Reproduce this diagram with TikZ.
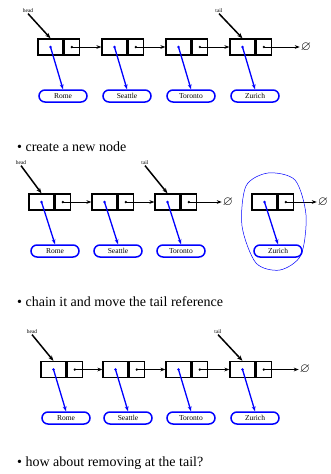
\documentclass[tikz,border=0pt]{standalone}
\usepackage{amssymb}
\usepackage{fontspec}
\setmainfont{Liberation Serif}
\usetikzlibrary{arrows.meta, positioning}

\begin{document}
\begin{tikzpicture}[x=1pt,y=-1pt,
  cell/.style={draw,line width=1.3pt,minimum height=16pt,inner sep=0pt},
  data/.style={cell,minimum width=25pt},
  link/.style={cell,minimum width=15pt},
  elem/.style={draw=blue,line width=1.5pt,rounded corners=6pt,minimum width=48pt,minimum height=12pt,inner sep=0pt,font=\fontsize{7.5}{8}\selectfont},
  ref/.style={font=\fontsize{5.5}{6}\selectfont,inner sep=0.5pt},
  nxt/.style={-{Stealth[length=5pt]},line width=1pt},
  ptr/.style={-{Stealth[length=5pt]},blue,line width=1.3pt},
  lbl/.style={-{Stealth[length=5.5pt]},line width=1.5pt},
  bul/.style={anchor=west,font=\fontsize{14}{15}\selectfont,inner sep=0pt},
  nul/.style={font=\fontsize{13}{13}\selectfont,inner sep=1pt}]
\useasboundingbox (0,0) rectangle (331,474);

% first list
\foreach \i/\x/\c in {1/50.5/Rome,2/114.5/Seattle,3/178.5/Toronto,4/242.5/Zurich} {
  \node[data] (d1\i) at (\x,47) {};
  \node[link,right=0pt of d1\i] (l1\i) {};
  \node[elem] (e1\i) at (\x+12.5,96) {\c};
  \fill[blue] (d1\i) circle (1.4pt);
  \fill (l1\i) circle (1.3pt);
  \draw[ptr] (d1\i.center) -- (e1\i.north);
}
\node[nul] (z1) at (306,47) {$\varnothing$};
\draw[nxt] (l11.center) -- (d12.west);
\draw[nxt] (l12.center) -- (d13.west);
\draw[nxt] (l13.center) -- (d14.west);
\draw[nxt] (l14.center) -- (z1.west);
\node[ref] (h1) at (28,11) {head};
\node[ref] (t1) at (219,11) {tail};
\draw[lbl] (h1.south) -- (d11.north);
\draw[lbl] (t1.south) -- (d14.north);

\node[bul] (s1) at (17,147) {\textbullet\ create a new node};

% second list, new node apart
\foreach \i/\x/\c in {1/41.5/Rome,2/104.5/Seattle,3/167.5/Toronto,4/264.5/Zurich} {
  \node[data] (d2\i) at (\x,202) {};
  \node[link,right=0pt of d2\i] (l2\i) {};
  \node[elem] (e2\i) at (\x+13.5,251) {\c};
  \fill[blue] (d2\i) circle (1.4pt);
  \fill (l2\i) circle (1.3pt);
  \draw[ptr] (d2\i.center) -- (e2\i.north);
}
\node[nul] (z2) at (228,202) {$\varnothing$};
\node[nul] (z3) at (323,202) {$\varnothing$};
\draw[nxt] (l21.center) -- (d22.west);
\draw[nxt] (l22.center) -- (d23.west);
\draw[nxt] (l23.center) -- (z2.west);
\draw[nxt] (l24.center) -- (z3.west);
\node[ref] (h2) at (21,163) {head};
\node[ref] (t2) at (145,163) {tail};
\draw[lbl] (h2.south) -- (d21.north);
\draw[lbl] (t2.south) -- (d23.north);
\draw[blue,line width=0.5pt] plot[smooth cycle] coordinates {(268,173) (295,180) (306,215) (301,255) (280,270) (256,263) (242,226) (246,186)};

\node[bul] (s2) at (17,302) {\textbullet\ chain it and move the tail reference};

% third list
\foreach \i/\x/\c in {1/53.5/Rome,2/115.5/Seattle,3/178.5/Toronto,4/242.5/Zurich} {
  \node[data] (d3\i) at (\x,369.5) {};
  \node[link,right=0pt of d3\i] (l3\i) {};
  \node[elem] (e3\i) at (\x+12.5,418) {\c};
  \fill[blue] (d3\i) circle (1.4pt);
  \fill (l3\i) circle (1.3pt);
  \draw[ptr] (d3\i.center) -- (e3\i.north);
}
\node[nul] (z4) at (305,369.5) {$\varnothing$};
\draw[nxt] (l31.center) -- (d32.west);
\draw[nxt] (l32.center) -- (d33.west);
\draw[nxt] (l33.center) -- (d34.west);
\draw[nxt] (l34.center) -- (z4.west);
\node[ref] (h3) at (32,332) {head};
\node[ref] (t3) at (218,332) {tail};
\draw[lbl] (h3.south) -- (d31.north);
\draw[lbl] (t3.south) -- (d34.north);

\node[bul] (s3) at (17,463) {\textbullet\ how about removing at the tail?};
\end{tikzpicture}
\end{document}
